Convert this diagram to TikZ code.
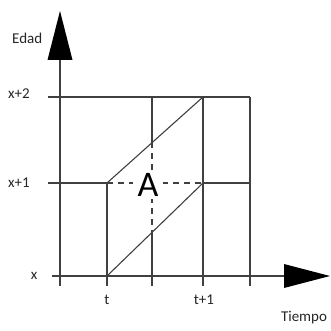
\documentclass[tikz,border=0pt]{standalone}
\usepackage{fontspec}
\setmainfont{Carlito}
\begin{document}
\begin{tikzpicture}[x=1pt,y=-1pt,
  grid/.style={draw=black!75,line width=1.1pt},
  dashline/.style={draw=black!75,line width=1.1pt,dash pattern=on 6pt off 5pt},
  lbl/.style={inner sep=0pt,text=black!85,font=\fontsize{15}{17}\selectfont},
  arrowfill/.style={fill=black,draw=none}]
\useasboundingbox (0,0) rectangle (330,331);
% key coordinates
\coordinate (O) at (60,276);
\coordinate (T0) at (107,276);
\coordinate (T0a) at (107,183);
\coordinate (T1a) at (203,183);
\coordinate (T1b) at (203,97);
% horizontal grid lines
\draw[grid] (48,97) -- (250,97);
\draw[grid] (48,183) -- (T0a);
\draw[dashline] (T0a) -- (T1a);
\draw[grid] (T1a) -- (250,183);
% x axis
\draw[grid] (52,276) -- (286,276);
% vertical lines
\draw[grid] (60,58) -- (60,286);
\draw[grid] (T0a) -- (107,286);
\draw[grid] (152,97) -- (152,142);
\draw[dashline] (152,142) -- (152,232);
\draw[grid] (152,232) -- (152,286);
\draw[grid] (T1b) -- (203,286);
\draw[grid] (250,97) -- (250,286);
% diagonals
\draw[grid] (T0a) -- (T1b);
\draw[grid] (T0) -- (T1a);
% arrowheads
\fill[arrowfill] (60,11) -- (72.5,60) -- (47.5,60) -- cycle;
\fill[arrowfill] (330,276) -- (284,264) -- (284,288) -- cycle;
% labels
\node[lbl,anchor=west] (edad) at (12,38) {Edad};
\node[lbl,anchor=west] (x2) at (8,94) {x+2};
\node[lbl,anchor=west] (x1) at (8,183) {x+1};
\node[lbl] (xl) at (34,276) {x};
\node[lbl] (tl) at (107,300) {t};
\node[lbl] (t1l) at (204,300) {t+1};
\node[lbl] (tiempo) at (304,318) {Tiempo};
\node[fill=white,inner xsep=5pt,inner ysep=2pt,text=black,font=\fontsize{36}{40}\selectfont] (A) at (148,185) {A};
\end{tikzpicture}
\end{document}
